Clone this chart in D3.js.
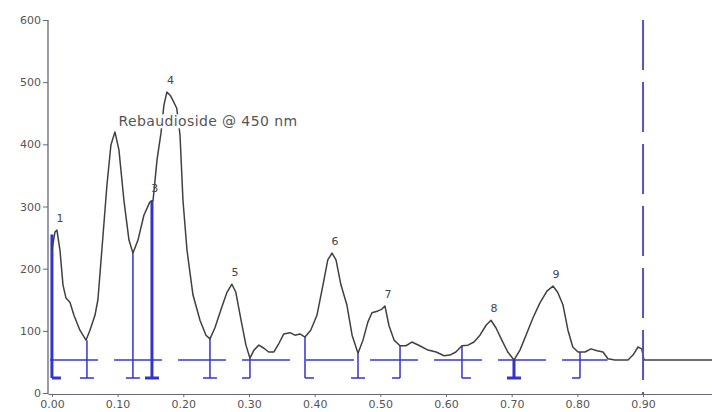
<!DOCTYPE html>
<html>
<head>
<meta charset="utf-8">
<script src="https://cdn.jsdelivr.net/npm/d3@7"></script>
<style>
  body { margin: 0; background: #fff; }
  .axis text { font-family: "DejaVu Sans", Verdana, sans-serif; font-size: 11px; fill: #555; }
  .axis path, .axis line { stroke: #667; }
</style>
</head>
<body>
<div class="graph"></div>
<script>
/*---------- DATA ----------*/

//chromatogram trace: retention time and signal
const times = [0, 0.0046, 0.0076, 0.0122, 0.0168, 0.0213, 0.0274, 0.0335, 0.0426, 0.0518,
    0.0579, 0.0655, 0.070, 0.076, 0.0838, 0.0898, 0.0959, 0.102, 0.1096, 0.1173,
    0.1233, 0.131, 0.140, 0.149, 0.154, 0.160, 0.166, 0.1705, 0.175, 0.180,
    0.184, 0.190, 0.195, 0.1995, 0.2056, 0.2147, 0.2254, 0.2345, 0.2406, 0.2482,
    0.2573, 0.2665, 0.274, 0.280, 0.288, 0.2954, 0.3015, 0.3076, 0.315, 0.3228,
    0.330, 0.338, 0.3457, 0.353, 0.3624, 0.370, 0.3776, 0.3853, 0.394, 0.4035,
    0.4127, 0.420, 0.4264, 0.4325, 0.440, 0.449, 0.457, 0.466, 0.4736, 0.481,
    0.4873, 0.4964, 0.5025, 0.507, 0.513, 0.521, 0.530, 0.539, 0.548, 0.560,
    0.5725, 0.585, 0.597, 0.606, 0.615, 0.6243, 0.6335, 0.6426, 0.6517, 0.661,
    0.6685, 0.676, 0.685, 0.694, 0.7035, 0.7126, 0.7218, 0.7325, 0.743, 0.7537,
    0.7629, 0.770, 0.778, 0.7857, 0.793, 0.801, 0.8116, 0.8208, 0.830, 0.839,
    0.8466, 0.857, 0.877, 0.8847, 0.8923, 0.898, 0.9015, 1.005];
const signal = [230, 259, 262, 230, 174, 153, 146, 125, 101, 85,
    101, 125, 150, 230, 335, 399, 420, 391, 310, 246,
    225, 246, 286, 307, 310, 375, 418, 463, 484, 479,
    471, 458, 415, 310, 230, 158, 117, 93, 87, 105,
    134, 162, 175, 162, 117, 77, 56, 69, 77, 72,
    66, 66, 80, 95, 97, 93, 95, 90, 101, 125,
    174, 214, 225, 214, 174, 142, 93, 64, 85, 114,
    129, 132, 135, 140, 109, 85, 76, 76, 82, 76,
    69, 66, 60, 61, 66, 76, 77, 82, 93, 109,
    117, 105, 85, 66, 53, 69, 93, 121, 145, 164,
    172, 162, 142, 101, 74, 66, 66, 71, 68, 66,
    55, 53, 53, 61, 74, 71, 53, 53];

//integration drop lines: time, top value, foot direction
const dropTimes = [0.000, 0.0533, 0.1233, 0.1523, 0.2406, 0.3015, 0.3853, 0.466, 0.530, 0.6243, 0.7035, 0.804];
const dropTops  = [255, 85, 225, 310, 87, 56, 90, 64, 76, 76, 53, 66];
const dropFeet  = ["right", "center", "center", "center", "center", "left", "right", "center", "left", "right", "center", "left"];
const dropBold  = [true, false, false, true, false, false, false, false, false, false, true, false];
const DROP_BOTTOM = 24;

//integration baseline
const baselineValue = 53;
const baselineRange = [-0.003, 0.846];

//peak numbers
const peakNames  = ["1", "3", "4", "5", "6", "7", "8", "9"];
const peakTimes  = [0.0076, 0.152, 0.176, 0.274, 0.4264, 0.507, 0.6685, 0.763];
const peakValues = [262, 310, 484, 175, 225, 140, 117, 172];

//axis ticks
const xTicks = [0, 0.1, 0.2, 0.3, 0.4, 0.5, 0.6, 0.7, 0.8, 0.9];
const yTicks = [0, 100, 200, 300, 400, 500, 600];

//annotation and marker line
const titleText = "Rebaudioside @ 450 nm";
const titlePos = [0.2375, 437];
const markerTime = 0.9;

/*---------- D3 STUFF ----------*/

const SIZE = {X: 712, Y: 412};

const svg = d3.select(".graph").append("svg")
    .attr("width", SIZE.X)
    .attr("height", SIZE.Y)
    .style("display", "block");

svg.append("rect").attr("width", SIZE.X).attr("height", SIZE.Y).attr("fill", "#fff");

//scales
const x = d3.scaleLinear().domain([-0.006, 1.005]).range([48, 712]);
const y = d3.scaleLinear().domain([0, 600]).range([393, 20]);

//axes
svg.append("g")
    .attr("class", "axis")
    .attr("transform", "translate(0, 394)")
    .call(d3.axisBottom(x).tickValues(xTicks).tickFormat(d3.format(".2f")).tickSize(3).tickSizeOuter(0).tickPadding(3));

svg.append("g")
    .attr("class", "axis")
    .attr("transform", "translate(48, 0)")
    .call(d3.axisLeft(y).tickValues(yTicks).tickSize(5).tickSizeOuter(0).tickPadding(2))
    .call(g => g.select(".domain").attr("d", `M0,${y(600)}V394`).attr("stroke", "#556").attr("stroke-width", 1.3));

//dashed integration baseline
svg.append("line")
    .attr("x1", x(baselineRange[0])).attr("x2", x(baselineRange[1]))
    .attr("y1", y(baselineValue)).attr("y2", y(baselineValue))
    .attr("stroke", "#3838d0")
    .attr("stroke-width", 1.5)
    .attr("stroke-dasharray", "48,16");

//drop lines with feet
const drops = dropTimes.map((t, i) => ({t: t, top: dropTops[i], foot: dropFeet[i], bold: dropBold[i]}));

const dropG = svg.append("g")
    .attr("stroke", "#3434cc")
    .attr("fill", "none");

dropG.selectAll("path")
    .data(drops)
    .enter()
    .append("path")
        .attr("stroke-width", d => d.bold ? 3 : 1.5)
        .attr("d", function (d) {
            const px = x(d.t), yb = y(DROP_BOTTOM);
            let foot;
            if (d.foot === "center") foot = `M${px - 7},${yb}H${px + 7}`;
            else if (d.foot === "left") foot = `M${px - 8},${yb}H${px}`;
            else foot = `M${px},${yb}H${px + 9}`;
            return `M${px},${y(d.top)}V${yb}` + foot;
        });

//chromatogram trace
const trace = times.map((t, i) => ({t: t, v: signal[i]}));

svg.append("path")
    .datum(trace)
    .attr("fill", "none")
    .attr("stroke", "#404040")
    .attr("stroke-width", 1.5)
    .attr("stroke-linejoin", "round")
    .attr("d", d3.line().x(d => x(d.t)).y(d => y(d.v)));

//marker at 0.90
svg.append("line")
    .attr("x1", x(markerTime)).attr("x2", x(markerTime))
    .attr("y1", y(600)).attr("y2", 394)
    .attr("stroke", "#5454b4")
    .attr("stroke-width", 2)
    .attr("stroke-dasharray", "50,12");

//title with white box behind it
const titleG = svg.append("g");
const boxRect = titleG.append("rect").attr("fill", "#fff");
const title = titleG.append("text")
    .attr("x", x(titlePos[0]))
    .attr("y", y(titlePos[1]))
    .attr("text-anchor", "middle")
    .attr("dominant-baseline", "central")
    .attr("font-family", "DejaVu Sans, Verdana, sans-serif")
    .attr("font-size", 14)
    .attr("letter-spacing", 0.4)
    .attr("fill", "#555")
    .text(titleText);

const bb = title.node().getBBox();
boxRect
    .attr("x", bb.x - 2).attr("y", bb.y + 1)
    .attr("width", bb.width + 4).attr("height", bb.height - 2);

//peak numbers
svg.append("g")
    .selectAll("text")
    .data(peakNames)
    .enter()
    .append("text")
        .attr("x", (d, i) => x(peakTimes[i]) + 3)
        .attr("y", (d, i) => y(peakValues[i]) - 8)
        .attr("text-anchor", "middle")
        .attr("font-family", "DejaVu Sans, Verdana, sans-serif")
        .attr("font-size", 11)
        .attr("fill", "#444")
        .text(d => d);
</script>
</body>
</html>
